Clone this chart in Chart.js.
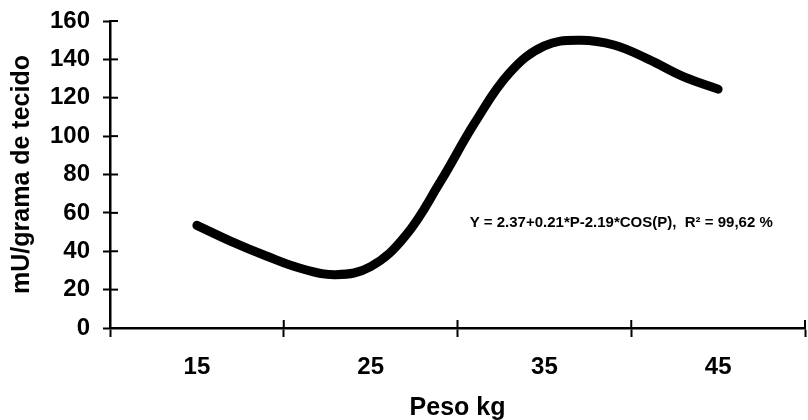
<!DOCTYPE html>
<html>
<head>
<meta charset="utf-8">
<script src="https://cdn.jsdelivr.net/npm/chart.js@4.4.0/dist/chart.umd.min.js"></script>
<style>
  body { margin: 0; background: #fff; }
  #wrap { width: 808px; height: 420px; }
</style>
</head>
<body>
<div id="wrap"><canvas id="linechart"></canvas></div>
<script>
// Peso (kg) values along the fitted curve
const peso = [15, 17, 19, 21, 23, 25, 27, 29, 31, 33, 35, 37, 39, 41, 43, 45];
// mU/grama de tecido
const atividade = [53.5, 45, 37.5, 31, 27.8, 32, 48, 76, 107, 133, 147, 150, 147.5, 140, 131, 124.5];
// axis setup
const xLabels = [15, 25, 35, 45];
const xMajor = [10, 20, 30, 40, 50];
const yTicks = [0, 20, 40, 60, 80, 100, 120, 140, 160];
const equation = 'Y = 2.37+0.21*P-2.19*COS(P),  R² = 99,62 %';

const font = 'Liberation Sans, Arial, sans-serif';

// Ticks that cross the axes (the outer half comes from the grid ticks)
const innerTicks = {
    id: 'innerTicks',
    afterDraw(chart) {
        const {ctx, scales: {x, y}} = chart;
        ctx.save();
        ctx.strokeStyle = '#000';
        ctx.lineWidth = 2;
        yTicks.forEach((v) => {
            const py = y.getPixelForValue(v);
            ctx.beginPath();
            ctx.moveTo(x.left, py);
            ctx.lineTo(x.left + 8, py);
            ctx.stroke();
        });
        xMajor.slice(1).forEach((v) => {
            const px = x.getPixelForValue(v);
            ctx.beginPath();
            ctx.moveTo(px, y.bottom);
            ctx.lineTo(px, y.bottom - 8);
            ctx.stroke();
        });
        // equation text
        ctx.fillStyle = '#000';
        ctx.font = 'bold 15px ' + font;
        ctx.textBaseline = 'middle';
        ctx.fillText(equation, x.getPixelForValue(30.7), y.getPixelForValue(55));
        ctx.restore();
    }
};

new Chart('linechart', {
    type: 'line',
    data: {
        datasets: [{
            data: peso.map((p, i) => ({x: p, y: atividade[i]})),
            borderColor: '#000',
            borderWidth: 9,
            borderCapStyle: 'round',
            tension: 0.4,
            pointRadius: 0,
            fill: false,
        }]
    },
    options: {
        responsive: true,
        maintainAspectRatio: false,
        animation: false,
        devicePixelRatio: 1,
        layout: {padding: {top: 21, right: 3, left: 0, bottom: 0}},
        plugins: {legend: {display: false}, tooltip: {enabled: false}},
        scales: {
            x: {
                type: 'linear',
                min: 10,
                max: 50,
                afterFit: (scale) => {
                    scale.height = 92;
                    scale.paddingLeft = 0;
                    scale.paddingRight = 0;
                },
                afterBuildTicks: (scale) => {
                    scale.ticks = [10, 15, 20, 25, 30, 35, 40, 45, 50].map((v) => ({value: v}));
                },
                ticks: {
                    color: '#000',
                    font: {family: font, size: 24, weight: 'bold'},
                    padding: 16,
                    maxRotation: 0,
                    autoSkip: false,
                    callback: (v) => xLabels.includes(v) ? String(v) : '',
                },
                grid: {
                    drawOnChartArea: false,
                    tickLength: 9,
                    tickWidth: 2,
                    tickColor: (c) => xMajor.includes(c.tick.value) ? '#000' : 'rgba(0,0,0,0)',
                },
                border: {color: '#000', width: 2.5},
                title: {
                    display: true,
                    text: 'Peso kg',
                    color: '#000',
                    font: {family: font, size: 25, weight: 'bold'},
                    padding: {top: 0, bottom: -3},
                },
            },
            y: {
                min: 0,
                max: 160,
                afterFit: (scale) => {
                    scale.width = 110;
                    scale.paddingTop = 0;
                    scale.paddingBottom = 0;
                },
                ticks: {
                    stepSize: 20,
                    color: '#000',
                    font: {family: font, size: 24, weight: 'bold'},
                    padding: 13,
                },
                grid: {
                    drawOnChartArea: false,
                    tickLength: 7,
                    tickWidth: 2,
                    tickColor: '#000',
                },
                border: {color: '#000', width: 2.5},
                title: {
                    display: true,
                    text: 'mU/grama de tecido',
                    color: '#000',
                    font: {family: font, size: 25, weight: 'bold'},
                    padding: {top: 7, bottom: 0},
                },
            }
        }
    },
    plugins: [innerTicks]
});
</script>
</body>
</html>
